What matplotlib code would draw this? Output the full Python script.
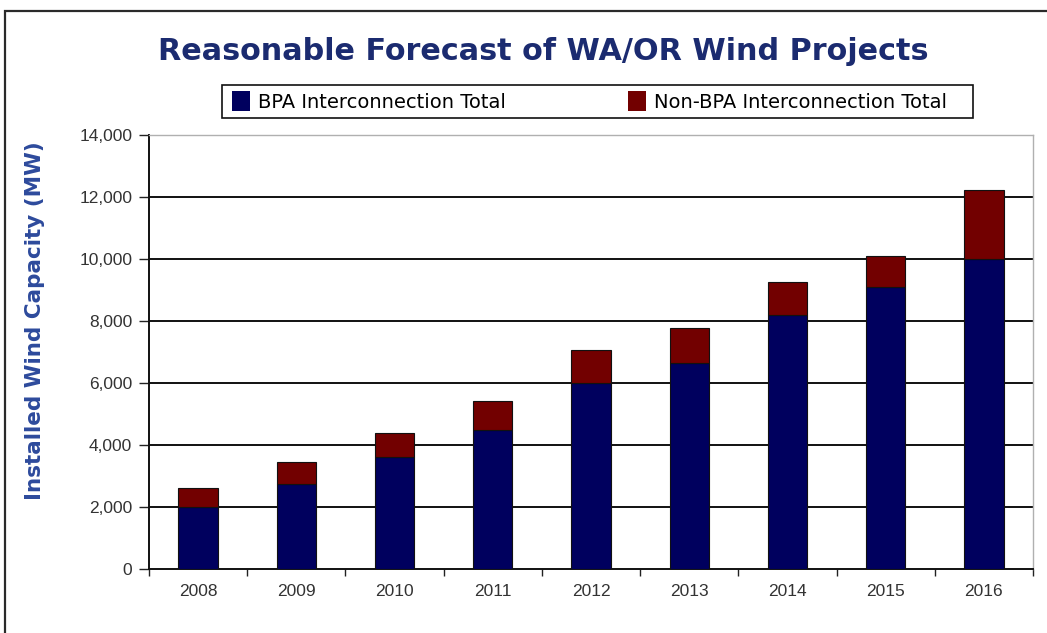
import matplotlib
matplotlib.use("Agg")
import matplotlib.pyplot as plt
from matplotlib.patches import Rectangle, Patch
import numpy as np

years = ["2008", "2009", "2010", "2011", "2012", "2013", "2014", "2015", "2016"]
bpa = [2000, 2730, 3600, 4500, 6000, 6650, 8200, 9100, 10000]
non_bpa = [600, 720, 800, 920, 1050, 1120, 1070, 1000, 2230]
yticks = [0, 2000, 4000, 6000, 8000, 10000, 12000, 14000]

plt.rcParams['font.family'] = ['Liberation Sans', 'DejaVu Sans']

W, H = 1047, 633
fig = plt.figure(figsize=(W / 100, H / 100), dpi=100)
fig.patch.set_facecolor('white')

# outer frame (clipped on right/bottom)
fig.patches.append(Rectangle((5 / W, -0.05), 1.2, 1 - 11 / H + 0.05,
                             transform=fig.transFigure, fill=False,
                             edgecolor='#2a2a2a', linewidth=1.6))

ax = fig.add_axes([149 / W, 1 - 569 / H, (1033 - 149) / W, (569 - 135) / H])
x = np.arange(len(years))
navy = '#00005e'
maroon = '#720000'
ax.bar(x, bpa, width=0.4, color=navy, edgecolor='#111111', linewidth=0.8, zorder=3)
ax.bar(x, non_bpa, width=0.4, bottom=bpa, color=maroon, edgecolor='#111111', linewidth=0.8, zorder=3)

ax.set_xlim(-0.5, len(years) - 0.5)
ax.set_ylim(0, 14000)
ax.set_yticks(yticks)
ax.set_yticklabels([f"{v:,}" for v in yticks], fontsize=12.5, color='#333333')
ax.set_xticks(x)
ax.set_xticklabels(years, fontsize=12.5, color='#333333')
ax.tick_params(axis='x', length=0, pad=11)
ax.set_xticks(np.arange(-0.5, len(years)), minor=True)
ax.tick_params(axis='x', which='minor', length=5, width=1, color='#222222')
ax.tick_params(axis='y', length=7, width=1, color='#222222', pad=5)

for v in yticks[1:-1]:
    ax.axhline(v, color='#111111', linewidth=1.4, zorder=1)
for s in ['top', 'right']:
    ax.spines[s].set_color('#b0b0b0')
    ax.spines[s].set_linewidth(1.0)
for s in ['left', 'bottom']:
    ax.spines[s].set_color('#111111')
    ax.spines[s].set_linewidth(1.4)

ax.set_ylabel("Installed Wind Capacity (MW)", fontsize=15.5, fontweight='bold',
              color='#2d4a9c', family=['DejaVu Sans'])
ax.yaxis.set_label_coords(-(149 - 45) / (1033 - 149), (569 - 321) / (569 - 135))

fig.text(543 / W, 1 - 52 / H, "Reasonable Forecast of WA/OR Wind Projects",
         ha='center', va='center', fontsize=21.8, fontweight='bold', color='#1b2b70',
         family=['DejaVu Sans'])

# legend frame
fig.patches.append(Rectangle((222 / W, 1 - 118 / H), 751 / W, 33 / H,
                             transform=fig.transFigure, fill=True, facecolor='white',
                             edgecolor='#111111', linewidth=1.2))

handles = [Patch(facecolor=navy, edgecolor='none'), Patch(facecolor=maroon, edgecolor='none')]
leg = fig.legend(handles, ["BPA Interconnection Total", "Non-BPA Interconnection Total"],
                 loc='center left', bbox_to_anchor=(232 / W, 1 - 101.5 / H),
                 ncol=2, frameon=False,
                 prop={'family': ['DejaVu Sans'], 'size': 14},
                 handlelength=0.95, handleheight=1.2,
                 handletextpad=0.4, borderpad=0.0, borderaxespad=0,
                 columnspacing=6.26)

fig.savefig("out.png", dpi=100, facecolor='white')
